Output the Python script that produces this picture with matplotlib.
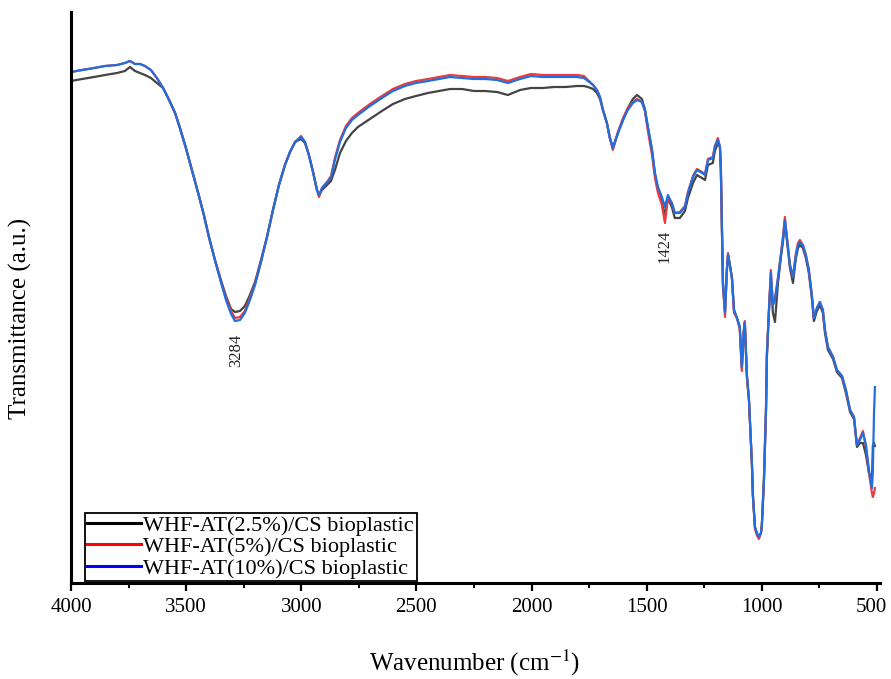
import matplotlib
matplotlib.use("Agg")
import matplotlib.pyplot as plt
from matplotlib.lines import Line2D
from matplotlib.ticker import MultipleLocator
from matplotlib.transforms import ScaledTranslation

# wavenumbers (cm-1)
wn = [4000, 3952, 3900, 3852, 3800, 3766, 3744, 3722, 3700, 3679,
      3653, 3627, 3600, 3574, 3548, 3527, 3501, 3475, 3449, 3423,
      3401, 3375, 3349, 3327, 3305, 3288, 3266, 3245, 3223, 3201,
      3175, 3149, 3123, 3097, 3071, 3049, 3027, 3001, 2984, 2967,
      2949, 2932, 2923, 2910, 2888, 2871, 2854, 2832, 2806, 2780,
      2754, 2702, 2650, 2602, 2550, 2502, 2450, 2402, 2354, 2302,
      2250, 2202, 2150, 2103, 2050, 2003, 1951, 1903, 1851, 1803,
      1773, 1755, 1733, 1716, 1703, 1690, 1673, 1660, 1647, 1625,
      1603, 1582, 1560, 1542, 1521, 1508, 1495, 1477, 1464, 1451,
      1434, 1421, 1408, 1391, 1378, 1356, 1334, 1321, 1299, 1282,
      1260, 1247, 1234, 1213, 1204, 1191, 1182, 1178, 1174, 1169,
      1160, 1152, 1147, 1139, 1130, 1121, 1108, 1096, 1087, 1078,
      1074, 1065, 1056, 1052, 1043, 1039, 1030, 1022, 1013, 1004,
      1000, 991, 982, 978, 969, 961, 952, 943, 930, 917,
      909, 900, 891, 878, 865, 852, 843, 835, 822, 809,
      796, 783, 774, 761, 748, 735, 726, 713, 691, 674,
      652, 635, 617, 600, 587, 574, 561, 548, 535, 522,
      518, 513, 509]

# transmittance, arbitrary units
t_25 = [502, 504, 506, 508, 510, 512, 516, 512, 510, 508,
        505, 500, 495, 483, 470, 455, 435, 413, 391, 368,
        346, 323, 303, 287, 274, 271, 272, 277, 288, 301,
        323, 346, 373, 398, 418, 431, 441, 444, 440, 428,
        411, 393, 388, 393, 398, 402, 413, 430, 442, 450,
        456, 464, 472, 479, 484, 487, 490, 492, 494, 494,
        492, 492, 491, 488, 493, 495, 495, 496, 496, 497,
        497, 496, 494, 490, 484, 473, 460, 445, 435, 450,
        463, 475, 484, 488, 484, 474, 456, 433, 408, 393,
        380, 368, 385, 376, 365, 365, 372, 385, 400, 408,
        405, 403, 418, 420, 432, 440, 436, 413, 363, 300,
        271, 313, 328, 318, 305, 273, 265, 256, 216, 253,
        260, 208, 183, 163, 118, 88, 56, 50, 46, 50,
        58, 103, 173, 228, 273, 305, 270, 261, 300, 326,
        340, 360, 342, 315, 300, 325, 335, 338, 335, 325,
        310, 285, 262, 272, 278, 270, 250, 233, 224, 211,
        205, 190, 171, 164, 136, 140, 140, 128, 110, 100,
        138, 140, 137]

t_5 = [511, 513, 515, 517, 518, 520, 522, 519, 519, 517,
       513, 505, 495, 483, 470, 455, 435, 413, 391, 368,
       346, 323, 301, 285, 272, 265, 266, 272, 285, 299,
       321, 346, 373, 398, 418, 431, 441, 447, 441, 428,
       411, 393, 386, 395, 401, 407, 425, 443, 457, 465,
       470, 479, 487, 494, 499, 502, 504, 506, 508, 507,
       506, 506, 505, 502, 506, 509, 508, 508, 508, 508,
       507, 503, 498, 493, 486, 473, 460, 445, 433, 451,
       465, 475, 481, 484, 481, 472, 452, 428, 405, 390,
       378, 360, 385, 380, 370, 371, 377, 391, 407, 414,
       411, 409, 424, 426, 437, 445, 436, 413, 363, 298,
       266, 313, 330, 318, 305, 270, 265, 254, 212, 253,
       262, 205, 183, 163, 118, 88, 54, 48, 44, 50,
       58, 103, 175, 230, 275, 313, 278, 285, 305, 330,
       345, 366, 345, 318, 306, 330, 340, 343, 338, 328,
       313, 288, 265, 275, 281, 273, 253, 236, 226, 213,
       207, 193, 173, 166, 138, 145, 152, 136, 110, 90,
       86, 90, 95]

t_10 = [511, 513, 515, 517, 518, 520, 522, 519, 519, 517,
        513, 505, 495, 483, 470, 455, 435, 413, 391, 368,
        346, 323, 301, 283, 269, 262, 263, 270, 283, 298,
        321, 346, 373, 398, 418, 431, 441, 446, 441, 428,
        411, 393, 388, 395, 401, 405, 423, 441, 455, 463,
        468, 477, 485, 492, 497, 500, 502, 504, 506, 505,
        504, 504, 503, 500, 504, 507, 506, 506, 506, 506,
        505, 502, 498, 493, 486, 473, 460, 445, 435, 450,
        463, 473, 480, 483, 481, 473, 456, 433, 410, 396,
        386, 376, 388, 380, 370, 370, 376, 390, 406, 413,
        410, 408, 423, 425, 436, 443, 436, 413, 363, 300,
        271, 313, 328, 318, 305, 273, 265, 256, 216, 253,
        260, 208, 183, 163, 118, 88, 56, 50, 46, 50,
        58, 103, 173, 228, 273, 310, 278, 283, 305, 328,
        343, 363, 345, 318, 306, 328, 338, 341, 338, 328,
        313, 288, 265, 275, 281, 273, 253, 236, 226, 213,
        207, 193, 173, 166, 138, 143, 150, 138, 113, 95,
        113, 170, 196]

labels = ["WHF-AT(2.5%)/CS bioplastic",
          "WHF-AT(5%)/CS bioplastic",
          "WHF-AT(10%)/CS bioplastic"]
xticks = [4000, 3500, 3000, 2500, 2000, 1500, 1000, 500]
peaks = [3284, 1424]
peak_text_y = [249, 353]

plt.rcParams['font.family'] = ['Liberation Serif', 'DejaVu Serif']
plt.rcParams['mathtext.fontset'] = 'stix'

fig = plt.figure(figsize=(8.91, 6.79), dpi=100)
ax = fig.add_axes([71/891, 96/679, 809/891, 571/679])

ax.plot(wn, t_25, color='#444444', lw=1.6)
ax.plot(wn, t_5, color='#ec3b3b', lw=1.6)
ax.plot(wn, t_10, color='#1f6fe0', lw=1.6)

for p, ty in zip(peaks, peak_text_y):
    ax.text(p, ty, str(p), rotation=90, ha='center', va='top',
            fontsize=12, color='#222222')

ax.set_xlim(4000, 487)
ax.set_ylim(0, 571)
ax.set_xticks(xticks)
ax.set_xticklabels([str(v) for v in xticks])
ax.xaxis.set_minor_locator(MultipleLocator(250))
ax.tick_params(axis='x', which='major', direction='out', length=6,
               width=1.6, labelsize=15, pad=5)
ax.tick_params(axis='x', which='minor', direction='out', length=3.5, width=1.4)
ax.set_yticks([])
ax.spines['top'].set_visible(False)
ax.spines['right'].set_visible(False)
ax.spines['left'].set_linewidth(2.2)
ax.spines['bottom'].set_linewidth(2.2)

# the last label sits against the right edge, nudge it in a little
last = ax.get_xticklabels()[-1]
last.set_transform(last.get_transform() + ScaledTranslation(-0.06, 0, fig.dpi_scale_trans))

fig.text(475/891, 1 - 663/679, 'Wavenumber (cm$^{-1}$)', ha='center',
         va='center', fontsize=18)
fig.text(20/891, 1 - 318/679, 'Transmittance (a.u.)', rotation=90,
         ha='center', va='center', fontsize=18)

handles = [Line2D([], [], color='black', lw=2.2),
           Line2D([], [], color='red', lw=2.2),
           Line2D([], [], color='blue', lw=2.2)]
leg = ax.legend(handles, labels, loc='lower left', bbox_to_anchor=(0.017, 0.003),
                fontsize=16, frameon=True, fancybox=False, framealpha=1,
                edgecolor='black', borderpad=0.12, labelspacing=0.04,
                handlelength=2.4, handletextpad=0.12, borderaxespad=0)
leg.get_frame().set_linewidth(1.3)

fig.savefig('out.png', dpi=100)
